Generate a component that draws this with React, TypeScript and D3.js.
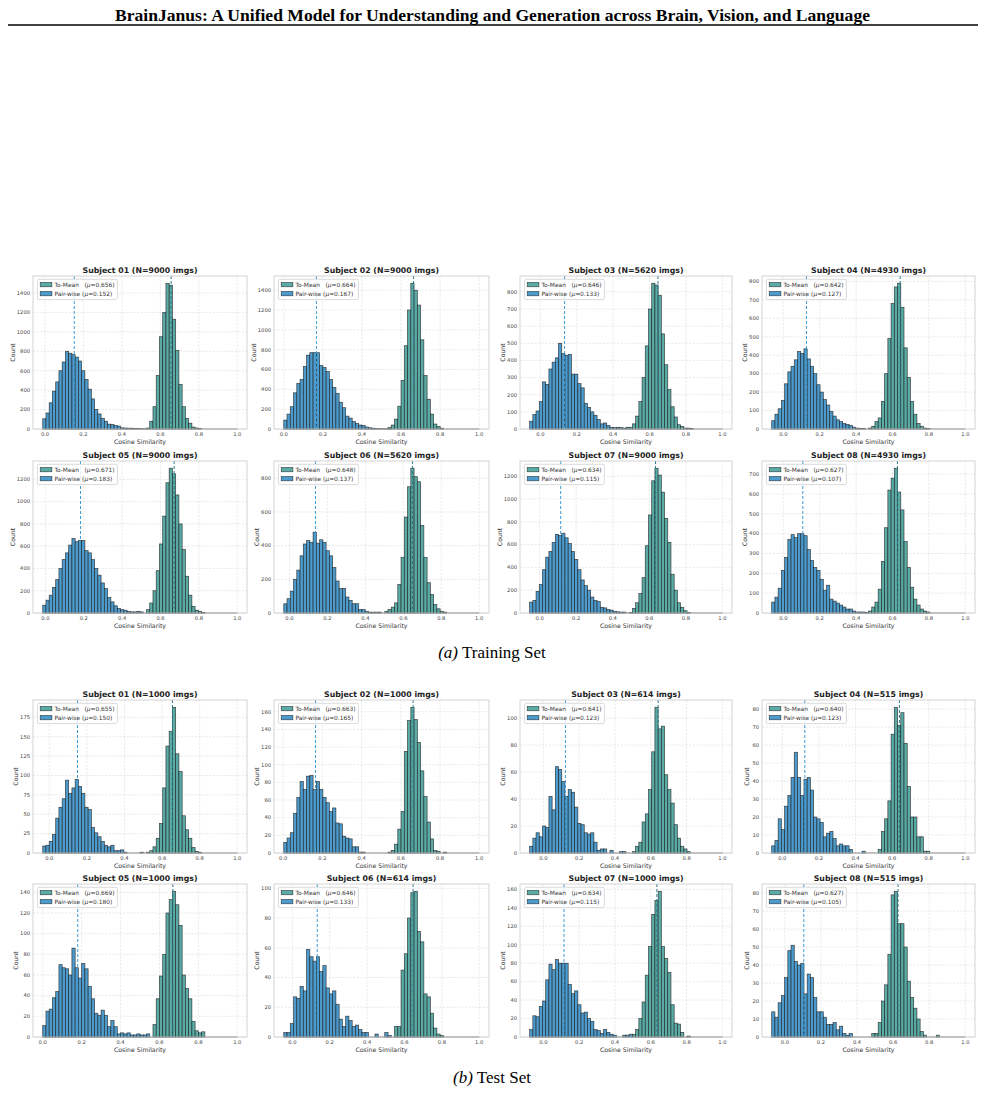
import React from 'react';
import * as d3 from 'd3';

const NBINS = 60;
const subjects = ['01', '02', '03', '04', '05', '06', '07', '08'];
const trainN = [9000, 9000, 5620, 4930, 9000, 5620, 9000, 4930];
const testN = [1000, 1000, 614, 515, 1000, 614, 1000, 515];
const trainToMeanMu = [0.656, 0.664, 0.646, 0.642, 0.671, 0.648, 0.634, 0.627];
const trainPairMu = [0.152, 0.167, 0.133, 0.127, 0.183, 0.137, 0.115, 0.107];
const testToMeanMu = [0.655, 0.663, 0.641, 0.640, 0.669, 0.646, 0.634, 0.627];
const testPairMu = [0.150, 0.165, 0.123, 0.123, 0.180, 0.133, 0.115, 0.105];
const trainBinLo = [-0.012, 0.0, -0.059, -0.064, -0.014, -0.03, -0.055, -0.064];
const testBinLo = [-0.035, 0.003, -0.077, -0.058, 0.0, -0.046, -0.077, -0.073];
const trainYStep = [200, 200, 100, 100, 200, 200, 200, 100];
const testYStep = [25, 20, 20, 10, 20, 20, 20, 10];
const xTicks = [0, 0.2, 0.4, 0.6, 0.8, 1.0];

const trainPairCounts = [
  [105, 165, 270, 390, 485, 600, 690, 800, 780, 765, 740, 700, 600, 510, 410, 310, 200, 155, 110, 80, 50, 45, 35, 30, 12, 10, 8, 8, 5, 5, 3, 2],
  [90, 150, 225, 365, 460, 500, 630, 745, 770, 770, 770, 640, 620, 580, 500, 420, 360, 270, 215, 130, 110, 75, 55, 40, 35, 20, 12, 8, 5, 3, 3, 2, 1],
  [45, 85, 105, 160, 275, 260, 350, 390, 415, 500, 440, 430, 435, 320, 320, 265, 240, 150, 125, 100, 80, 55, 30, 35, 20, 10, 8, 10, 8, 5],
  [45, 80, 110, 155, 245, 310, 340, 375, 420, 410, 435, 380, 340, 300, 240, 200, 160, 130, 95, 70, 50, 40, 30, 25, 20, 10, 5, 3, 3],
  [70, 115, 160, 230, 300, 400, 480, 540, 610, 670, 640, 650, 650, 560, 540, 480, 400, 340, 270, 220, 140, 100, 65, 40, 30, 25, 15, 10, 10, 15, 10],
  [55, 85, 130, 200, 255, 340, 410, 430, 420, 480, 415, 435, 420, 370, 340, 270, 190, 145, 145, 95, 75, 55, 55, 20, 20, 10, 5, 5, 5, 5],
  [95, 110, 190, 250, 380, 490, 540, 620, 690, 680, 700, 660, 610, 540, 470, 380, 290, 240, 200, 140, 110, 100, 50, 45, 30, 25, 15, 10, 8, 8],
  [55, 80, 125, 215, 280, 370, 395, 380, 400, 400, 390, 320, 265, 230, 215, 170, 115, 140, 70, 60, 50, 40, 30, 20, 20, 10, 5, 5, 5, 3],
];
const trainToMeanStart = [32, 32, 30, 30, 32, 31, 31, 30];
const trainToMeanCounts = [
  [10, 80, 230, 550, 950, 1200, 1500, 1480, 1130, 810, 460, 230, 110, 60, 20, 10, 5],
  [15, 40, 100, 230, 490, 840, 1200, 1470, 1400, 1250, 900, 540, 300, 150, 50, 25, 8],
  [10, 10, 30, 75, 160, 300, 485, 700, 850, 840, 780, 555, 375, 230, 130, 70, 25, 15, 5, 5, 3],
  [5, 15, 40, 60, 150, 300, 490, 680, 770, 790, 660, 440, 280, 150, 80, 30, 15, 5, 3],
  [30, 90, 200, 380, 620, 870, 1170, 1300, 1250, 1060, 800, 570, 330, 160, 60, 25, 15, 5],
  [10, 20, 35, 60, 170, 330, 570, 750, 860, 810, 780, 520, 330, 180, 110, 50, 25, 10, 5],
  [5, 40, 90, 170, 310, 590, 860, 1160, 1270, 1210, 1060, 830, 620, 340, 200, 90, 50, 20, 5],
  [10, 30, 55, 120, 260, 430, 620, 680, 730, 610, 520, 360, 230, 130, 70, 40, 20, 10, 5],
];

const testPairCounts = [
  [9, 10, 15, 24, 45, 59, 70, 94, 77, 84, 95, 86, 77, 59, 56, 33, 26, 21, 15, 10, 8, 10, 3, 3, 4, 1, 0, 0, 0, 0, 1],
  [12, 17, 23, 45, 63, 81, 72, 87, 88, 72, 81, 72, 63, 57, 47, 51, 34, 33, 19, 17, 16, 7, 7, 1, 1],
  [5, 11, 15, 12, 20, 19, 42, 32, 64, 62, 53, 42, 47, 45, 34, 22, 21, 15, 14, 15, 8, 2, 3, 3, 0, 2, 0, 0, 1, 1],
  [4, 7, 19, 13, 26, 32, 42, 56, 42, 32, 41, 42, 35, 20, 19, 17, 9, 11, 12, 8, 4, 5, 4, 4, 2, 0, 0, 0, 1],
  [11, 25, 27, 38, 44, 70, 67, 66, 60, 86, 67, 57, 71, 66, 49, 37, 23, 21, 26, 21, 10, 16, 10, 3, 4, 3, 4, 2, 2, 3, 2, 2, 3],
  [3, 3, 9, 27, 26, 34, 31, 59, 54, 51, 54, 44, 48, 33, 29, 31, 22, 12, 7, 14, 11, 7, 8, 5, 3, 3, 0, 0, 2, 0, 0, 3, 1],
  [8, 23, 22, 33, 39, 62, 79, 73, 84, 80, 80, 80, 57, 47, 50, 35, 26, 27, 20, 17, 8, 7, 4, 8, 5, 3, 2, 0, 0, 2, 2, 3],
  [14, 11, 19, 23, 33, 48, 51, 42, 40, 41, 24, 35, 33, 22, 14, 14, 11, 7, 7, 8, 4, 6, 2, 1, 2],
];
const testToMeanStart = [32, 32, 32, 33, 34, 34, 32, 31];
const testToMeanCounts = [
  [1, 3, 8, 19, 38, 84, 138, 157, 188, 128, 105, 48, 30, 19, 7, 2, 1],
  [1, 3, 10, 27, 47, 115, 150, 165, 151, 125, 93, 64, 35, 16, 3, 2, 0, 1],
  [1, 5, 8, 23, 29, 47, 75, 108, 92, 94, 58, 47, 37, 21, 11, 5, 3, 1],
  [2, 12, 19, 29, 66, 81, 71, 78, 61, 37, 20, 20, 9, 9, 1, 1],
  [12, 37, 59, 80, 120, 133, 141, 128, 108, 60, 47, 37, 15, 6, 4, 5],
  [7, 7, 45, 56, 80, 97, 98, 71, 64, 29, 27, 16, 6, 2, 1],
  [3, 8, 20, 38, 67, 98, 133, 148, 158, 98, 85, 70, 35, 15, 14, 5, 0, 1],
  [2, 2, 8, 20, 29, 46, 79, 81, 63, 63, 50, 31, 22, 16, 10, 3, 1, 0, 0, 0, 1],
];

const COL_L = [33, 274, 520, 762];
const COL_R = [247, 489, 732, 975];
const ROWS: [number, number][] = [[276, 429], [461, 613], [700, 853], [884, 1037]];

const TEAL = '#5aaba5';
const BLUE = '#4c9bcc';
const TEAL_LINE = '#2a7d8a';
const BLUE_LINE = '#3b9bd6';
const EDGE = '#1c1c1c';
const FONT = 'DejaVu Sans, sans-serif';

type PanelProps = {
  x0: number; x1: number; y0: number; y1: number;
  title: string; lo: number; pair: number[]; tmStart: number; tm: number[];
  muTM: number; muPair: number; yStep: number;
};

function Panel(p: PanelProps) {
  const { x0, x1, y0, y1, lo, pair, tmStart, tm, muTM, muPair, yStep } = p;
  const span = 1 - lo;
  const w = span / NBINS;
  const x = d3.scaleLinear().domain([lo - 0.05 * span, 1 + 0.05 * span]).range([x0, x1]);
  const maxC = Math.max(...pair, ...tm);
  const y = d3.scaleLinear().domain([0, maxC * 1.05]).range([y1, y0]);
  const yTicks = d3.range(0, maxC * 1.05 + 1e-9, yStep);
  const maxTickLen = String(yTicks[yTicks.length - 1]).length;
  const ylabOff = 11 + maxTickLen * 2.2;
  const bars = (counts: number[], start: number, fill: string, key: string) =>
    counts.map((c, i) => {
      if (c <= 0) return null;
      const b = start + i;
      const xa = x(lo + b * w);
      const xb = x(lo + (b + 1) * w);
      return (
        <rect key={key + i} x={xa} y={y(c)} width={xb - xa} height={y(0) - y(c)}
          fill={fill} stroke={EDGE} strokeOpacity={0.8} strokeWidth={0.7} />
      );
    });
  const lx = x0 + 4.4;
  const ly = y0 + 3.3;
  return (
    <g>
      <rect x={x0} y={y0} width={x1 - x0} height={y1 - y0} fill="#fff" />
      {xTicks.map((t) => (
        <line key={'gx' + t} x1={x(t)} x2={x(t)} y1={y0} y2={y1} stroke="#dcdcdc" strokeWidth={0.6} strokeDasharray="2.2,1.4" />
      ))}
      {yTicks.map((t) => (
        <line key={'gy' + t} x1={x0} x2={x1} y1={y(t)} y2={y(t)} stroke="#dcdcdc" strokeWidth={0.6} strokeDasharray="2.2,1.4" />
      ))}
      <line x1={x(lo)} x2={x(1)} y1={y(0)} y2={y(0)} stroke="#555" strokeWidth={0.8} />
      {bars(tm, tmStart, TEAL, 't')}
      {bars(pair, 0, BLUE, 'p')}
      <line x1={x(muTM)} x2={x(muTM)} y1={y0} y2={y1} stroke={TEAL_LINE} strokeWidth={1} strokeDasharray="3,2" />
      <line x1={x(muPair)} x2={x(muPair)} y1={y0} y2={y1} stroke={BLUE_LINE} strokeWidth={1} strokeDasharray="3,2" />
      <rect x={x0} y={y0} width={x1 - x0} height={y1 - y0} fill="none" stroke="#cfcfcf" strokeWidth={0.9} />
      {xTicks.map((t) => (
        <text key={'tx' + t} x={x(t)} y={y1 + 6.6} textAnchor="middle" fontFamily={FONT} fontSize={5.2} fill="#444">
          {d3.format('.1f')(t)}
        </text>
      ))}
      {yTicks.map((t) => (
        <text key={'ty' + t} x={x0 - 3} y={y(t)} dy="0.35em" textAnchor="end" fontFamily={FONT} fontSize={5.2} fill="#444">
          {t}
        </text>
      ))}
      <text x={(x0 + x1) / 2} y={y1 + 15} textAnchor="middle" fontFamily={FONT} fontSize={6.2} fill="#333">Cosine Similarity</text>
      <text transform={`translate(${x0 - ylabOff},${(y0 + y1) / 2}) rotate(-90)`} textAnchor="middle" dy="0.35em"
        fontFamily={FONT} fontSize={6.2} fill="#333">Count</text>
      <text x={(x0 + x1) / 2} y={y0 - 2.6} textAnchor="middle" fontFamily={FONT} fontWeight="bold" fontSize={7.8} fill="#222">
        {p.title}
      </text>
      <rect x={lx} y={ly} width={80} height={20.3} rx={1.5} fill="#fff" fillOpacity={0.85} stroke="#cccccc" strokeWidth={0.7} />
      <rect x={lx + 2.8} y={ly + 5.3 - 2.2} width={11.7} height={4.4} fill={TEAL} stroke={EDGE} strokeOpacity={0.8} strokeWidth={0.6} />
      <rect x={lx + 2.8} y={ly + 14.3 - 2.2} width={11.7} height={4.4} fill={BLUE} stroke={EDGE} strokeOpacity={0.8} strokeWidth={0.6} />
      <text x={lx + 17} y={ly + 5.3} dy="0.35em" fontFamily={FONT} fontSize={5.9} fill="#333" style={{ whiteSpace: 'pre' }}>
        {'To-Mean   ('}<tspan fontStyle="italic">μ</tspan>{'=' + muTM.toFixed(3) + ')'}
      </text>
      <text x={lx + 17} y={ly + 14.3} dy="0.35em" fontFamily={FONT} fontSize={5.9} fill="#333" style={{ whiteSpace: 'pre' }}>
        {'Pair-wise ('}<tspan fontStyle="italic">μ</tspan>{'=' + muPair.toFixed(3) + ')'}
      </text>
    </g>
  );
}

export default function App() {
  const panels: JSX.Element[] = [];
  subjects.forEach((s, i) => {
    const col = i % 4;
    const row = Math.floor(i / 4);
    panels.push(
      <Panel key={'tr' + i} x0={COL_L[col]} x1={COL_R[col]} y0={ROWS[row][0]} y1={ROWS[row][1]}
        title={`Subject ${s} (N=${trainN[i]} imgs)`} lo={trainBinLo[i]} pair={trainPairCounts[i]}
        tmStart={trainToMeanStart[i]} tm={trainToMeanCounts[i]} muTM={trainToMeanMu[i]} muPair={trainPairMu[i]}
        yStep={trainYStep[i]} />
    );
    panels.push(
      <Panel key={'te' + i} x0={COL_L[col]} x1={COL_R[col]} y0={ROWS[row + 2][0]} y1={ROWS[row + 2][1]}
        title={`Subject ${s} (N=${testN[i]} imgs)`} lo={testBinLo[i]} pair={testPairCounts[i]}
        tmStart={testToMeanStart[i]} tm={testToMeanCounts[i]} muTM={testToMeanMu[i]} muPair={testPairMu[i]}
        yStep={testYStep[i]} />
    );
  });
  return (
    <svg width={985} height={1093} style={{ position: 'absolute', left: 0, top: 0, display: 'block', background: '#fff' }}>
      <rect x={0} y={0} width={985} height={1093} fill="#fff" />
      <text x={492.5} y={20.5} textAnchor="middle" fontFamily="Liberation Serif, Times New Roman, serif" fontWeight="bold"
        fontSize={16} textLength={755} lengthAdjust="spacingAndGlyphs">
        BrainJanus: A Unified Model for Understanding and Generation across Brain, Vision, and Language
      </text>
      <line x1={8} x2={978} y1={25} y2={25} stroke="#000" strokeWidth={1.3} />
      {panels}
      <text x={492} y={658} textAnchor="middle" fontFamily="Liberation Serif, Times New Roman, serif" fontSize={17}>
        <tspan fontStyle="italic">(a)</tspan> Training Set
      </text>
      <text x={492} y={1083} textAnchor="middle" fontFamily="Liberation Serif, Times New Roman, serif" fontSize={17}>
        <tspan fontStyle="italic">(b)</tspan> Test Set
      </text>
    </svg>
  );
}
